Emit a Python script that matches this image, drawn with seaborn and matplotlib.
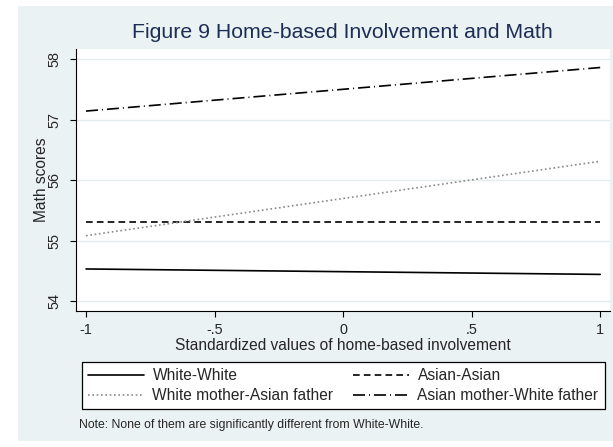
import matplotlib
matplotlib.use("Agg")
import matplotlib.pyplot as plt
import seaborn as sns
import pandas as pd
from matplotlib.patches import Rectangle

# valores (retas ajustadas em x = -1 e x = 1)
x_vals = [-1, 1]
white_white = [54.53, 54.44]
asian_asian = [55.31, 55.31]
wm_af = [55.08, 56.31]
am_wf = [57.14, 57.86]

groups = ["White-White", "Asian-Asian", "White mother-Asian father", "Asian mother-White father"]
series = [white_white, asian_asian, wm_af, am_wf]

xticks = [-1, -0.5, 0, 0.5, 1]
xtick_labels = ["-1", "-.5", "0", ".5", "1"]
yticks = [54, 55, 56, 57, 58]
ytick_labels = ["54", "55", "56", "57", "58"]

df = pd.DataFrame({
    "x": x_vals * len(groups),
    "y": [v for s in series for v in s],
    "grupo": [g for g in groups for _ in x_vals],
})

sns.set_style("white")
plt.rcParams["font.family"] = ["Liberation Sans", "DejaVu Sans"]

BG = "#eaf2f3"
NAVY = "#1e2d55"
FS = 11.2
TFS = 10.4

fig = plt.figure(figsize=(6.13, 4.47), dpi=100)
fig.patch.set_facecolor("white")
fig.patches.append(Rectangle((17.5 / 613, 1 - 440.7 / 447), 1, (440.7 - 6) / 447,
                             transform=fig.transFigure, facecolor=BG, edgecolor="none", zorder=-10))

ax = fig.add_axes([76 / 613, 1 - 310.7 / 447, (609.7 - 76) / 613, (310.7 - 49) / 447])
ax.set_facecolor("white")

palette = {"White-White": "black", "Asian-Asian": "black",
           "White mother-Asian father": "#8a8a8a", "Asian mother-White father": "black"}
dashes = {"White-White": "", "Asian-Asian": (4, 2.5),
          "White mother-Asian father": (1, 1.6), "Asian mother-White father": (7.2, 2.4, 0.6, 2.4)}

sns.lineplot(data=df, x="x", y="y", hue="grupo", style="grupo", palette=palette,
             dashes=dashes, linewidth=1.2, ax=ax)

ax.set_xlim(-1.039, 1.037)
ax.set_ylim(53.84, 58.166)
ax.set_xticks(xticks)
ax.set_xticklabels(xtick_labels, fontsize=TFS)
ax.set_yticks(yticks)
ax.set_yticklabels(ytick_labels, fontsize=TFS, rotation=90, va="center")
ax.tick_params(axis="both", length=4.2, width=0.8, color="black", pad=4.5,
               direction="out", left=True, bottom=True)
ax.tick_params(axis="y", pad=6)

ax.grid(axis="y", color="#e3ecee", linewidth=1.0)
ax.grid(axis="x", visible=False)
for s in ["top", "right"]:
    ax.spines[s].set_visible(False)
for s in ["left", "bottom"]:
    ax.spines[s].set_color("black")
    ax.spines[s].set_linewidth(0.8)

ax.set_xlabel("Standardized values of home-based involvement", fontsize=FS)
ax.set_ylabel("Math scores", fontsize=FS)
ax.xaxis.set_label_coords(0.5, (310.7 - 345.5) / 261.7)
ax.xaxis.label.set_va("center")
ax.yaxis.set_label_coords((41 - 76) / 533.7, 0.5)
ax.yaxis.label.set_va("center")

ax.set_title("Figure 9 Home-based Involvement and Math", fontsize=15.3, color=NAVY,
             y=1 + (49 - 33) / 261.7, va="center", pad=0)

handles, labels = ax.get_legend_handles_labels()
ax.get_legend().remove()
hmap = dict(zip(labels, handles))
order = ["White-White", "White mother-Asian father", "Asian-Asian", "Asian mother-White father"]
leg = fig.legend([hmap[k] for k in order], order, ncol=2, loc="center",
                 bbox_to_anchor=(81.7 / 613, 1 - 410.7 / 447, (604.7 - 81.7) / 613, 50 / 447),
                 bbox_transform=fig.transFigure, mode="expand", borderaxespad=0,
                 fontsize=FS, handlelength=3.6, handletextpad=0.55, labelspacing=0.3,
                 frameon=True, fancybox=False, edgecolor="black", facecolor="white",
                 framealpha=1)
leg.get_frame().set_linewidth(0.9)

fig.text(79 / 613, 1 - 425 / 447, "Note: None of them are significantly different from White-White.",
         fontsize=8.8, ha="left", va="center")

fig.savefig("out.png", dpi=100, facecolor=fig.get_facecolor())
